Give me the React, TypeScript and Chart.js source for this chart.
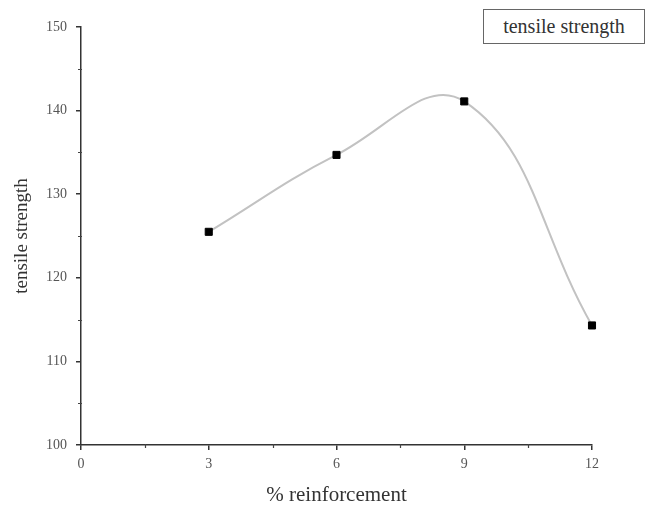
import React, { useEffect, useRef } from "react";
import { Chart, registerables } from "chart.js";

Chart.register(...registerables);

const reinforcement = [3, 6, 9, 12];
const tensileStrength = [125.5, 134.7, 141.1, 114.3];
const xMajorTicks = [0, 3, 6, 9, 12];
const xMinorTicks = [1.5, 4.5, 7.5, 10.5];
const yMajorTicks = [100, 110, 120, 130, 140, 150];
const yMinorTicks = [105, 115, 125, 135, 145];
const seriesLabel = "tensile strength";
const xTitle = "% reinforcement";
const yTitle = "tensile strength";

const SERIF = "'Liberation Serif', 'DejaVu Serif', serif";

const minorTicksPlugin = {
  id: "minorTicks",
  afterDraw(chart: any) {
    const ctx = chart.ctx;
    const xs = chart.scales.x;
    const ys = chart.scales.y;
    ctx.save();
    ctx.strokeStyle = "#444";
    ctx.lineWidth = 1.2;
    ctx.beginPath();
    for (const v of xMinorTicks) {
      const px = Math.round(xs.getPixelForValue(v)) + 0.5;
      ctx.moveTo(px, ys.bottom - 1);
      ctx.lineTo(px, ys.bottom + 3);
    }
    for (const v of yMinorTicks) {
      const py = Math.round(ys.getPixelForValue(v)) + 0.5;
      ctx.moveTo(xs.left + 1, py);
      ctx.lineTo(xs.left - 3, py);
    }
    ctx.stroke();
    ctx.restore();
  },
};

export default function App() {
  const canvasRef = useRef<HTMLCanvasElement | null>(null);

  useEffect(() => {
    if (!canvasRef.current) return;
    const chart = new Chart(canvasRef.current, {
      type: "line",
      data: {
        datasets: [
          {
            label: seriesLabel,
            data: reinforcement.map((x, i) => ({ x, y: tensileStrength[i] })),
            borderColor: "#c2c2c2",
            borderWidth: 2,
            tension: 0.42,
            fill: false,
            clip: false,
            pointStyle: "rect",
            pointRadius: 5,
            pointBackgroundColor: "#000",
            pointBorderColor: "#000",
            pointBorderWidth: 1,
          },
        ],
      },
      options: {
        animation: false,
        responsive: false,
        devicePixelRatio: 1,
        layout: { padding: { left: 12, right: 58, top: 27, bottom: 0 } },
        plugins: {
          legend: { display: false },
          tooltip: { enabled: false },
        },
        scales: {
          x: {
            type: "linear",
            min: 0,
            max: 12,
            afterBuildTicks(scale: any) {
              scale.ticks = xMajorTicks.map((v) => ({ value: v }));
            },
            afterFit(scale: any) {
              scale.height = 61;
            },
            ticks: {
              padding: 6,
              color: "#555",
              font: { family: SERIF, size: 14 },
              callback: (v: any) => String(v),
            },
            grid: {
              display: true,
              drawOnChartArea: false,
              drawTicks: true,
              tickLength: 5,
              color: "#333",
              lineWidth: 1.5,
            },
            border: { display: true, color: "#333", width: 1.5 },
            title: {
              display: true,
              text: xTitle,
              color: "#333",
              font: { family: SERIF, size: 21, lineHeight: 1.0 },
              padding: { top: 0, bottom: 0 },
            },
          },
          y: {
            type: "linear",
            min: 100,
            max: 150,
            afterBuildTicks(scale: any) {
              scale.ticks = yMajorTicks.map((v) => ({ value: v }));
            },
            afterFit(scale: any) {
              scale.width = 69;
            },
            ticks: {
              padding: 9,
              color: "#555",
              font: { family: SERIF, size: 14 },
              callback: (v: any) => String(v),
            },
            grid: {
              display: true,
              drawOnChartArea: false,
              drawTicks: true,
              tickLength: 5,
              color: "#333",
              lineWidth: 1.5,
            },
            border: { display: true, color: "#333", width: 1.5 },
            title: {
              display: true,
              text: yTitle,
              color: "#333",
              font: { family: SERIF, size: 19, lineHeight: 1.1 },
              padding: { top: 0, bottom: 0 },
            },
          },
        },
      } as any,
      plugins: [minorTicksPlugin],
    });
    return () => chart.destroy();
  }, []);

  return (
    <div style={{ position: "fixed", left: 0, top: 0, width: 650, height: 506, background: "#fff" }}>
      <canvas ref={canvasRef} width={650} height={506} style={{ display: "block" }} />
      <div
        style={{
          position: "absolute",
          left: 483,
          top: 9,
          width: 162,
          height: 35,
          boxSizing: "border-box",
          border: "1.5px solid #666",
          display: "flex",
          alignItems: "center",
          justifyContent: "center",
          fontFamily: SERIF,
          fontSize: 20,
          color: "#333",
          background: "#fff",
        }}
      >
        {seriesLabel}
      </div>
    </div>
  );
}
